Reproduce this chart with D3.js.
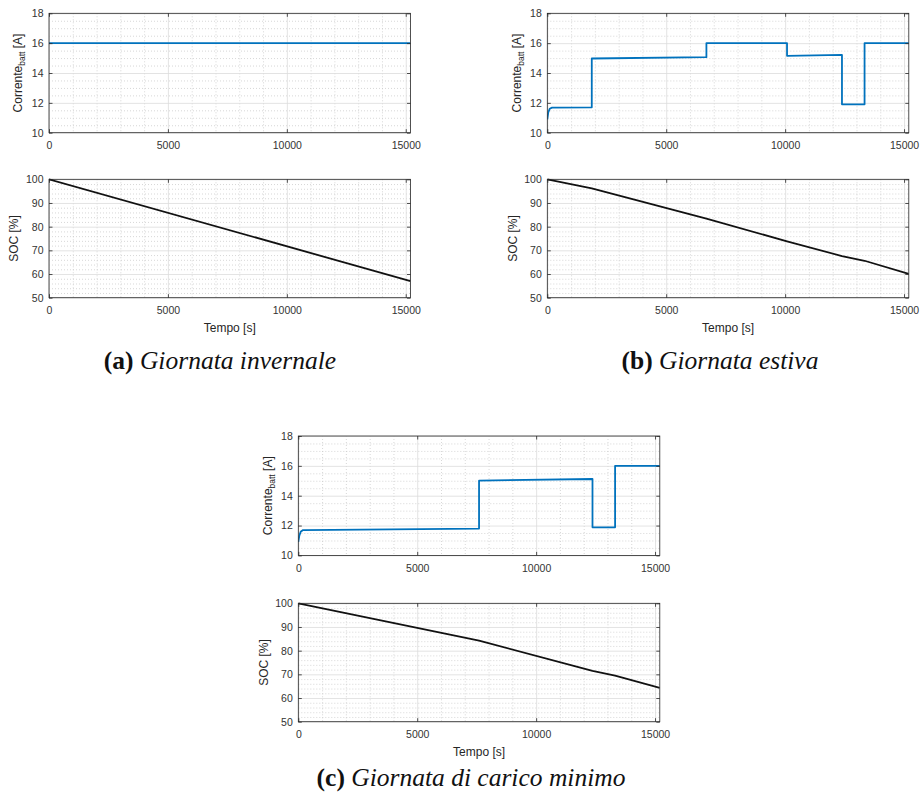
<!DOCTYPE html>
<html>
<head>
<meta charset="utf-8">
<script src="https://cdn.jsdelivr.net/npm/d3@7"></script>
<style>
  body { margin: 0; background: #fff; }
  svg { display: block; }
</style>
</head>
<body>
<script>
// time axis, seconds
const timeEnd = 15200;
const timeTicks = [0, 5000, 10000, 15000];
const currentTicks = [10, 12, 14, 16, 18];
const socTicks = [50, 60, 70, 80, 90, 100];

// (a) winter day
const winterCurrent = [[0, 16], [15200, 16]];
const winterSoc = [[0, 100], [15200, 57]];

// (b) summer day
const summerCurrent = [
  [0, 10.9], [40, 11.35], [100, 11.6], [200, 11.68], [1870, 11.7],
  [1870, 14.97], [6690, 15.06], [6690, 16.0], [10080, 16.0],
  [10080, 15.15], [12390, 15.21], [12390, 11.9], [13340, 11.9],
  [13340, 16.0], [15200, 16.0]
];
const summerSoc = [[0, 100], [1870, 96.2], [6690, 83.4], [10080, 73.8], [12390, 67.6], [13340, 65.6], [15200, 60.1]];

// (c) minimum load day
const minCurrent = [
  [0, 10.9], [40, 11.3], [100, 11.58], [200, 11.7], [7600, 11.8],
  [7600, 15.01], [12370, 15.12], [12370, 11.88], [13320, 11.88],
  [13320, 16.0], [15200, 16.0]
];
const minSoc = [[0, 100], [7600, 84.2], [12370, 71.5], [13320, 69.5], [15200, 64.3]];

const captionTags = ["(a)", "(b)", "(c)"];
const captionTexts = ["Giornata invernale", "Giornata estiva", "Giornata di carico minimo"];

const sans = "'Liberation Sans', Arial, sans-serif";
const ink = "#262626";

const svg = d3.select("body").append("svg")
    .attr("width", 921)
    .attr("height", 799);

svg.append("rect").attr("width", 921).attr("height", 799).attr("fill", "#fff");

function plotBox(x0, y0, w, h, yDomain, yTicks, yMinorStep, data, color, ylabel, ylabelOff, xlabel)
{
    let g = svg.append("g").attr("transform", `translate(${x0},${y0})`);

    let x = d3.scaleLinear().domain([0, timeEnd]).range([0, w]);
    let y = d3.scaleLinear().domain(yDomain).range([h, 0]);

    // minor grid (dotted)
    let xMinor = d3.range(1000, timeEnd, 1000).filter(v => v % 5000 != 0);
    let yMinor = d3.range(yDomain[0], yDomain[1], yMinorStep)
        .filter(v => !yTicks.some(t => Math.abs(t - v) < 1e-6));

    let minor = g.append("g");
    minor.append("g").call(d3.axisBottom(x).tickValues(xMinor).tickSize(h).tickFormat(""));
    minor.append("g").call(d3.axisRight(y).tickValues(yMinor).tickSize(w).tickFormat(""));
    minor.selectAll(".domain").remove();
    minor.selectAll("line")
        .attr("stroke", "#c6c6c6")
        .attr("stroke-width", 0.7)
        .attr("stroke-dasharray", "1,2");

    // major grid
    let major = g.append("g");
    major.append("g").call(d3.axisBottom(x).tickValues(timeTicks).tickSize(h).tickFormat(""));
    major.append("g").call(d3.axisRight(y).tickValues(yTicks).tickSize(w).tickFormat(""));
    major.selectAll(".domain").remove();
    major.selectAll("line")
        .attr("stroke", "#dcdcdc")
        .attr("stroke-width", 0.8);

    // data line
    let clipId = "clip" + Math.round(x0) + "_" + Math.round(y0);
    g.append("clipPath").attr("id", clipId)
        .append("rect").attr("x", 0).attr("y", -2).attr("width", w).attr("height", h + 4);

    let lineGen = d3.line()
        .x(d => x(d[0]))
        .y(d => y(d[1]));

    g.append("path")
        .datum(data)
        .attr("clip-path", `url(#${clipId})`)
        .attr("d", lineGen)
        .attr("fill", "none")
        .attr("stroke", color)
        .attr("stroke-width", 1.8)
        .attr("stroke-linejoin", "round");

    // box
    g.append("rect")
        .attr("width", w).attr("height", h)
        .attr("fill", "none")
        .attr("stroke", ink)
        .attr("stroke-width", 0.8);

    // ticks and labels
    let ax = [];
    ax.push(g.append("g").attr("transform", `translate(0,${h})`)
        .call(d3.axisBottom(x).tickValues(timeTicks).tickSize(-3.5).tickPadding(9).tickFormat(d3.format("d"))));
    ax.push(g.append("g")
        .call(d3.axisLeft(y).tickValues(yTicks).tickSize(-3.5).tickPadding(5.5).tickFormat(d3.format("d"))));
    ax.push(g.append("g")
        .call(d3.axisTop(x).tickValues(timeTicks).tickSize(-3.5).tickFormat("")));
    ax.push(g.append("g").attr("transform", `translate(${w},0)`)
        .call(d3.axisRight(y).tickValues(yTicks).tickSize(-3.5).tickFormat("")));

    ax.forEach(a => {
        a.select(".domain").remove();
        a.attr("font-family", sans).attr("font-size", 10.5);
        a.selectAll("line").attr("stroke", ink).attr("stroke-width", 0.8);
        a.selectAll("text").attr("fill", "#333");
    });

    // y label
    let yl = g.append("text")
        .attr("transform", `translate(${-ylabelOff},${h / 2}) rotate(-90)`)
        .attr("text-anchor", "middle")
        .attr("dy", "0.35em")
        .attr("font-family", sans)
        .attr("font-size", 12)
        .attr("fill", ink);
    yl.append("tspan").text(ylabel[0]);
    if (ylabel.length > 2) {
        yl.append("tspan").attr("font-size", 8.5).attr("dy", 3).text(ylabel[1]);
        yl.append("tspan").attr("dy", -3).text(ylabel[2]);
    }

    if (xlabel) {
        g.append("text")
            .attr("x", w / 2)
            .attr("y", h + 34)
            .attr("text-anchor", "middle")
            .attr("font-family", sans)
            .attr("font-size", 12)
            .attr("fill", ink)
            .text(xlabel);
    }
}

function caption(cx, cy, i)
{
    let t = svg.append("text")
        .attr("x", cx).attr("y", cy)
        .attr("text-anchor", "middle")
        .attr("font-family", "'Liberation Serif', 'Times New Roman', serif")
        .attr("font-size", 25.5)
        .attr("fill", "#111");
    t.append("tspan").attr("font-weight", "bold").text(captionTags[i]);
    t.append("tspan").attr("font-style", "italic").text(" " + captionTexts[i]);
}

const panelW = 361.5;
const topH = 119.4;
const botH = 118.4;

const panels = [
    { x: 49, top: 13.3, bot: 179.3, cur: winterCurrent, soc: winterSoc },
    { x: 547.3, top: 13.3, bot: 179.3, cur: summerCurrent, soc: summerSoc },
    { x: 298.3, top: 436, bot: 603.3, cur: minCurrent, soc: minSoc }
];

panels.forEach(p => {
    plotBox(p.x, p.top, panelW, topH, [10, 18], currentTicks, 0.5, p.cur, "#0072BD",
        ["Corrente", "batt", " [A]"], 31, null);
    plotBox(p.x, p.bot, panelW, botH, [50, 100], socTicks, 2, p.soc, "#111",
        ["SOC [%]"], 35, "Tempo [s]");
});

caption(220, 369, 0);
caption(720, 369, 1);
caption(471, 786, 2);
</script>
</body>
</html>
